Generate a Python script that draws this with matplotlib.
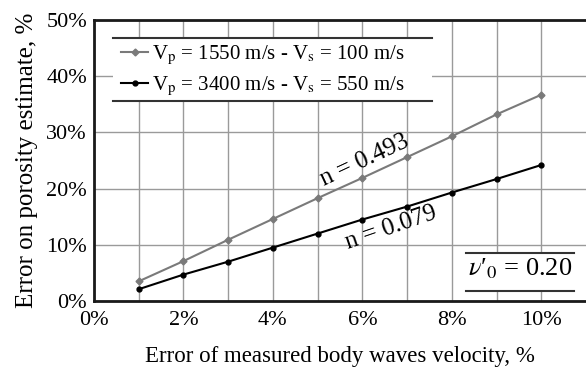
import matplotlib
matplotlib.use("Agg")
import matplotlib.pyplot as plt
from matplotlib.patches import Rectangle
from matplotlib.lines import Line2D

plt.rcParams['font.family'] = ['Liberation Serif', 'DejaVu Serif']
plt.rcParams['mathtext.fontset'] = 'stix'

# Data (percent)
x_err = [1, 2, 3, 4, 5, 6, 7, 8, 9, 10]
gray_vals = [3.5, 7.1, 10.9, 14.6, 18.3, 21.9, 25.6, 29.3, 33.2, 36.7]
black_vals = [2.1, 4.7, 7.0, 9.5, 12.0, 14.5, 16.8, 19.3, 21.7, 24.2]
x_ticks = [0, 2, 4, 6, 8, 10]
y_ticks = [0, 10, 20, 30, 40, 50]
label_gray = r"V$_\mathrm{p}$ = 1550 m/s - V$_\mathrm{s}$ = 100 m/s"
label_black = r"V$_\mathrm{p}$ = 3400 m/s - V$_\mathrm{s}$ = 550 m/s"

fig = plt.figure(figsize=(5.86, 3.73), dpi=100)
ax = fig.add_axes([94/586, (373-301)/373, (586-94)/586, (301-20)/373])

ax.set_xlim(0, 11)
ax.set_ylim(0, 50)
ax.set_xticks(x_ticks)
ax.set_xticklabels([f"{v}%" for v in x_ticks])
ax.set_xticks(x_err, minor=True)
ax.set_yticks(y_ticks)
ax.set_yticklabels([f"{v}%" for v in y_ticks])
ax.tick_params(which='both', length=0, labelsize=16)
ax.tick_params(axis='x', pad=7)
ax.tick_params(axis='y', pad=5)
ax.grid(True, which='both', color='#9a9a9a', linewidth=1.0)
ax.set_axisbelow(True)

for s in ['left', 'bottom', 'top']:
    ax.spines[s].set_linewidth(2.0)
    ax.spines[s].set_color('#1a1a1a')
ax.spines['right'].set_visible(False)

ax.plot(x_err, gray_vals, color='#7a7a7a', lw=1.5, marker='D', ms=3.5, zorder=4)
ax.plot(x_err, black_vals, color='black', lw=1.5, marker='o', ms=3.5, zorder=4)

# legend box (white with top/bottom rules)
x0, x1 = (113-94)/492, (432-94)/492
y0, y1 = (301-101)/281, (301-38)/281
ax.add_patch(Rectangle((x0, y0), x1-x0, y1-y0, transform=ax.transAxes,
                       facecolor='white', edgecolor='none', zorder=2))
for yy in (y0, y1):
    ax.add_line(Line2D([x0, x1], [yy, yy], transform=ax.transAxes,
                       color='#333333', lw=1.5, zorder=3))
handles = [Line2D([], [], color='#7a7a7a', lw=1.5, marker='D', ms=3.5),
           Line2D([], [], color='black', lw=1.5, marker='o', ms=3.5)]
ax.legend(handles, [label_gray, label_black], loc='center left',
          bbox_to_anchor=((121-94)/492, (y0+y1)/2 - 0.005), frameon=False, fontsize=15,
          handlelength=1.3, handletextpad=0.2, labelspacing=0.34,
          borderpad=0.0, borderaxespad=0.0)

# nu box
bx0, bx1 = (466-94)/492, (574-94)/492
by0, by1 = (301-291)/281, (301-253)/281
ax.add_patch(Rectangle((bx0, by0), bx1-bx0, by1-by0, transform=ax.transAxes,
                       facecolor='white', edgecolor='none', zorder=2))
for yy in (by0, by1):
    ax.add_line(Line2D([bx0, bx1], [yy, yy], transform=ax.transAxes,
                       color='#333333', lw=1.5, zorder=3))
ax.text((bx0+bx1)/2, (by0+by1)/2 + 0.01, "$\\nu$′$_\\mathrm{0}$ = 0.20", transform=ax.transAxes,
        ha='center', va='center', fontsize=19, zorder=5)

# annotations
ax.text(6.04, 25.1, "n = 0.493", rotation=25, ha='center', va='center',
        fontsize=18, zorder=5)
ax.text(6.64, 13.0, "n = 0.079", rotation=19, ha='center', va='center',
        fontsize=18, zorder=5)

ax.set_xlabel("Error of measured body waves velocity, %", fontsize=16.5, labelpad=12)
ax.set_ylabel("Error on porosity estimate, %", fontsize=18, labelpad=6)

fig.savefig("out.png", dpi=100)
